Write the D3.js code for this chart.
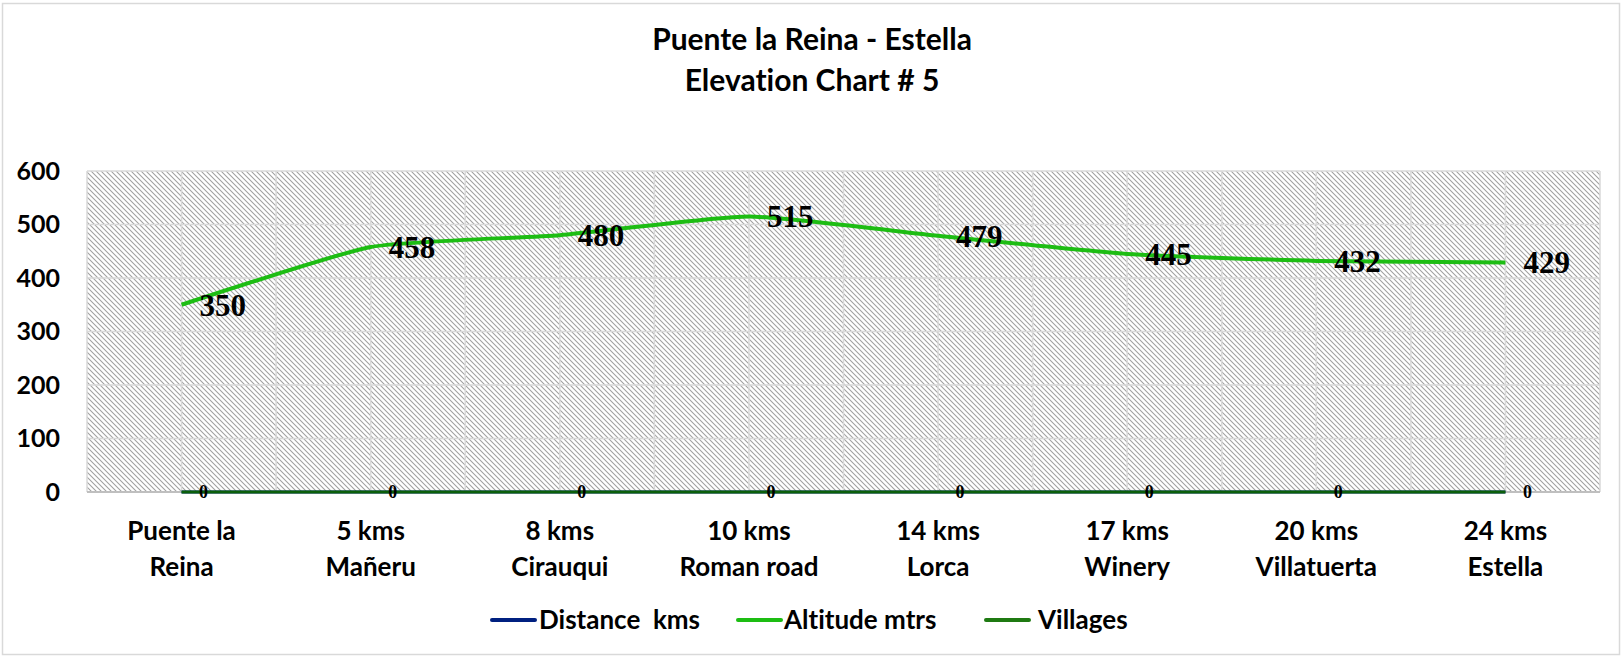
<!DOCTYPE html>
<html>
<head>
<meta charset="utf-8">
<script src="https://cdn.jsdelivr.net/npm/d3@7/dist/d3.min.js"></script>
<style>
  html, body { margin: 0; padding: 0; background: #fff; }
  svg { display: block; }
  text { white-space: pre; font-variant-ligatures: none; font-feature-settings: "liga" 0; }
</style>
</head>
<body>
<svg id="chart" width="1624" height="658"></svg>
<script>
// ---- data ----
const categoriesLine1 = ["Puente la", "5 kms", "8 kms", "10 kms", "14 kms", "17 kms", "20 kms", "24 kms"];
const categoriesLine2 = ["Reina", "Mañeru", "Cirauqui", "Roman road", "Lorca", "Winery", "Villatuerta", "Estella"];
const distanceKms = [0, 0, 0, 0, 0, 0, 0, 0];
const altitudeMtrs = [350, 458, 480, 515, 479, 445, 432, 429];
const villages = [0, 0, 0, 0, 0, 0, 0, 0];
const yTicks = [0, 100, 200, 300, 400, 500, 600];
const titleLines = ["Puente la Reina - Estella", "Elevation Chart # 5"];
const legendNames = ["Distance  kms", "Altitude mtrs", "Villages"];

// ---- layout ----
const plot = { left: 87, right: 1600, top: 171, bottom: 492 };
const sans = "Lato, 'Open Sans', sans-serif";
const serif = "'Liberation Serif', 'DejaVu Serif', serif";

const svg = d3.select("#chart");

// outer border
svg.append("rect").attr("x", 2.5).attr("y", 3.5).attr("width", 1617).attr("height", 651)
  .attr("fill", "#fff").attr("stroke", "#d9d9d9").attr("stroke-width", 1.5);

// pattern
const defs = svg.append("defs");
const pat = defs.append("pattern").attr("id", "hatch").attr("patternUnits", "userSpaceOnUse")
  .attr("width", 5).attr("height", 5);
pat.append("rect").attr("width", 5).attr("height", 5).attr("fill", "#ffffff");
pat.append("path").attr("d", "M-1,-1 L6,6 M-1,4 L1,6 M4,-1 L6,1")
  .attr("stroke", "#a0a0a0").attr("stroke-width", 1.05);

const x = d3.scaleBand().domain(d3.range(categoriesLine1.length)).range([plot.left, plot.right]).padding(0);
const y = d3.scaleLinear().domain([0, 600]).range([plot.bottom, plot.top]);
const cx = i => x(i) + x.bandwidth() / 2;

// plot area
svg.append("rect").attr("x", plot.left).attr("y", plot.top)
  .attr("width", plot.right - plot.left).attr("height", plot.bottom - plot.top)
  .attr("fill", "url(#hatch)");

// gridlines
const grid = svg.append("g");
grid.selectAll("line.h").data(yTicks).join("line")
  .attr("x1", plot.left).attr("x2", plot.right)
  .attr("y1", d => y(d)).attr("y2", d => y(d))
  .attr("stroke", "#d9d9d9").attr("stroke-width", 1.5);
const vgrid = d3.range(categoriesLine1.length * 2 + 1).map(k => plot.left + k * x.bandwidth() / 2);
grid.selectAll("line.v").data(vgrid).join("line")
  .attr("x1", d => d).attr("x2", d => d)
  .attr("y1", plot.top).attr("y2", plot.bottom)
  .attr("stroke", "#d9d9d9").attr("stroke-width", 1.5);

// bottom axis line
svg.append("line").attr("x1", plot.left).attr("x2", plot.right)
  .attr("y1", plot.bottom).attr("y2", plot.bottom)
  .attr("stroke", "#bfbfbf").attr("stroke-width", 2);

// y axis
const yAxis = d3.axisLeft(y).tickValues(yTicks).tickSize(0).tickPadding(0);
const yg = svg.append("g").attr("transform", `translate(${plot.left - 27},0)`).call(yAxis);
yg.select(".domain").remove();
yg.selectAll("text").attr("font-family", sans).attr("font-weight", "bold")
  .attr("font-size", 25).attr("fill", "#000");

// x axis labels
const xg = svg.append("g");
categoriesLine1.forEach((c, i) => {
  const t = xg.append("text").attr("x", cx(i)).attr("text-anchor", "middle")
    .attr("font-family", sans).attr("font-weight", "bold").attr("font-size", 26).attr("fill", "#000");
  t.append("tspan").attr("x", cx(i)).attr("y", 540).text(c);
  t.append("tspan").attr("x", cx(i)).attr("y", 576).text(categoriesLine2[i]);
});

// lines
const lineStraight = d3.line().x((d, i) => cx(i)).y(d => y(d));
const lineSmooth = d3.line().x((d, i) => cx(i)).y(d => y(d)).curve(d3.curveCardinal.tension(0.5));

svg.append("path").datum(distanceKms).attr("d", lineStraight)
  .attr("fill", "none").attr("stroke", "#002080").attr("stroke-width", 3);
svg.append("path").datum(villages).attr("d", lineStraight)
  .attr("fill", "none").attr("stroke", "#0b5f0b").attr("stroke-width", 3);
svg.append("path").datum(altitudeMtrs).attr("d", lineSmooth)
  .attr("fill", "none").attr("stroke", "#1dbd13").attr("stroke-width", 4).attr("stroke-linejoin", "round");

// data labels
svg.append("g").selectAll("text").data(altitudeMtrs).join("text")
  .attr("x", (d, i) => cx(i) + 18).attr("y", d => y(d))
  .attr("dy", "0.35em")
  .attr("font-family", serif).attr("font-weight", "bold").attr("font-size", 31).attr("fill", "#000")
  .text(d => d);
svg.append("g").selectAll("text").data(villages).join("text")
  .attr("x", (d, i) => cx(i) + 22).attr("y", d => y(d))
  .attr("dy", "0.35em").attr("text-anchor", "middle")
  .attr("font-family", serif).attr("font-weight", "bold").attr("font-size", 18).attr("fill", "#000")
  .text(d => d);

// title
titleLines.forEach((t, i) => {
  svg.append("text").attr("x", 812).attr("y", 50 + i * 41)
    .attr("text-anchor", "middle").attr("font-family", sans).attr("font-weight", "bold")
    .attr("font-size", 30).attr("fill", "#000").text(t);
});

// legend
const legendColors = ["#002080", "#1dbd13", "#1f7a12"];
const legendX = [492, 738, 986];
const legendTextX = [539, 784, 1038];
const lg = svg.append("g");
legendNames.forEach((n, i) => {
  lg.append("line").attr("x1", legendX[i]).attr("x2", legendX[i] + 43)
    .attr("y1", 620).attr("y2", 620).attr("stroke", legendColors[i]).attr("stroke-width", 4)
    .attr("stroke-linecap", "round");
  lg.append("text").attr("x", legendTextX[i]).attr("y", 620).attr("dy", "0.35em")
    .attr("font-family", sans).attr("font-weight", "bold").attr("font-size", 26).attr("fill", "#000")
    .text(n);
});
</script>
</body>
</html>
